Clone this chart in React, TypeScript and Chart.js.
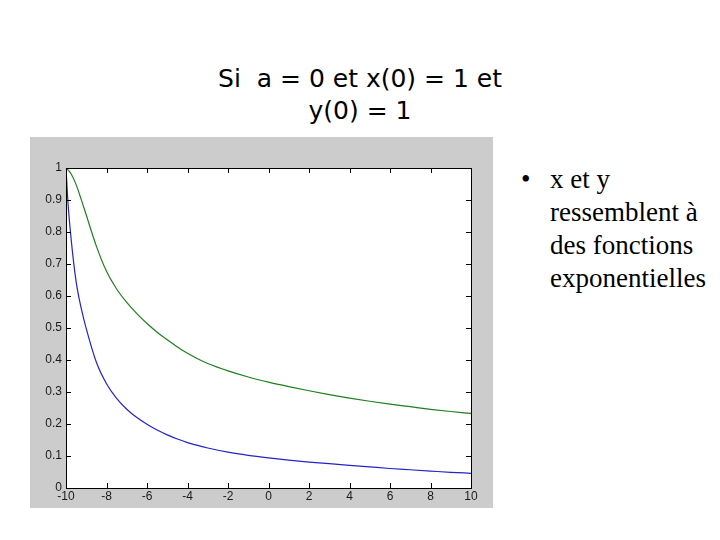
import React, { useEffect, useRef } from "react";
import { Chart, registerables } from "chart.js";

Chart.register(...registerables);

const xValues = [-10, -9.9, -9.75, -9.5, -9.25, -9, -8.5, -8, -7.5, -7, -6.5, -6, -5.5, -5, -4.5, -4, -3.5, -3, -2, -1, 0, 1, 2, 3, 4, 5, 6, 7, 8, 9, 10];
const blueValues = [1.0, 0.89, 0.78, 0.645, 0.562, 0.498, 0.393, 0.326, 0.28, 0.246, 0.22, 0.199, 0.181, 0.166, 0.153, 0.142, 0.133, 0.125, 0.112, 0.102, 0.094, 0.087, 0.081, 0.076, 0.071, 0.066, 0.061, 0.057, 0.053, 0.049, 0.046];
const greenValues = [1.0, 0.994, 0.982, 0.948, 0.902, 0.853, 0.756, 0.677, 0.622, 0.58, 0.545, 0.514, 0.487, 0.463, 0.441, 0.421, 0.404, 0.389, 0.366, 0.347, 0.331, 0.317, 0.304, 0.292, 0.281, 0.271, 0.262, 0.254, 0.246, 0.239, 0.233];

const titleLines = ["Si  a = 0 et x(0) = 1 et", "y(0) = 1"];
const bulletLines = ["x et y", "ressemblent à", "des fonctions", "exponentielles"];

const frameBoxPlugin = {
  id: "frameBox",
  beforeDraw(chart: any) {
    const { ctx, chartArea } = chart;
    ctx.save();
    ctx.fillStyle = "#ffffff";
    ctx.fillRect(chartArea.left, chartArea.top, chartArea.right - chartArea.left, chartArea.bottom - chartArea.top);
    ctx.restore();
  },
  afterDraw(chart: any) {
    const { ctx, chartArea } = chart;
    const { left, right, top, bottom } = chartArea;
    const xs = chart.scales.x;
    const ys = chart.scales.y;
    const len = 5;
    ctx.save();
    ctx.strokeStyle = "#000000";
    ctx.lineWidth = 1;
    ctx.beginPath();
    xs.ticks.forEach((t: any) => {
      const px = Math.round(xs.getPixelForValue(t.value)) + 0.5;
      if (px <= left + 1 || px >= right - 1) return;
      ctx.moveTo(px, bottom);
      ctx.lineTo(px, bottom - len);
      ctx.moveTo(px, top);
      ctx.lineTo(px, top + len);
    });
    ys.ticks.forEach((t: any) => {
      const py = Math.round(ys.getPixelForValue(t.value)) + 0.5;
      if (py <= top + 1 || py >= bottom - 1) return;
      ctx.moveTo(left, py);
      ctx.lineTo(left + len, py);
      ctx.moveTo(right, py);
      ctx.lineTo(right - len, py);
    });
    ctx.stroke();
    ctx.strokeRect(Math.round(left) + 0.5, Math.round(top) + 0.5, Math.round(right - left), Math.round(bottom - top));
    ctx.restore();
  },
};

function PlotCanvas() {
  const ref = useRef<HTMLCanvasElement | null>(null);
  useEffect(() => {
    if (!ref.current) return;
    const blueData = xValues.map((x, i) => ({ x, y: blueValues[i] }));
    const greenData = xValues.map((x, i) => ({ x, y: greenValues[i] }));
    const tickFont = { family: "'Liberation Sans', Arial, sans-serif", size: 12 };
    const chart = new Chart(ref.current, {
      type: "line",
      data: {
        datasets: [
          {
            label: "x",
            data: blueData,
            borderColor: "#2424c8",
            borderWidth: 1.2,
            pointRadius: 0,
            cubicInterpolationMode: "monotone",
            fill: false,
          },
          {
            label: "y",
            data: greenData,
            borderColor: "#1f7f1f",
            borderWidth: 1.2,
            pointRadius: 0,
            cubicInterpolationMode: "monotone",
            fill: false,
          },
        ],
      },
      options: {
        animation: false,
        responsive: false,
        devicePixelRatio: 1,
        layout: { padding: { top: 31, right: 22, left: 0, bottom: 0 } },
        plugins: { legend: { display: false }, tooltip: { enabled: false } },
        scales: {
          x: {
            type: "linear",
            min: -10,
            max: 10,
            grid: { display: false, drawTicks: false },
            border: { display: false },
            ticks: {
              stepSize: 2,
              font: tickFont,
              color: "#1a1a1a",
              padding: 1,
              maxRotation: 0,
              callback: (v: any) => String(Math.round(Number(v))),
            },
            afterFit(scale: any) {
              scale.height = 20;
            },
          },
          y: {
            type: "linear",
            min: 0,
            max: 1,
            grid: { display: false, drawTicks: false },
            border: { display: false },
            ticks: {
              stepSize: 0.1,
              font: tickFont,
              color: "#1a1a1a",
              padding: 4,
              callback: (v: any) => String(Math.round(Number(v) * 10) / 10),
            },
            afterFit(scale: any) {
              scale.width = 36;
            },
          },
        },
      },
      plugins: [frameBoxPlugin],
    } as any);
    return () => chart.destroy();
  }, []);
  return (
    <canvas
      ref={ref}
      width={463}
      height={371}
      style={{ position: "absolute", left: 30, top: 137, width: 463, height: 371, background: "#cccccc" }}
    />
  );
}

export default function App() {
  return (
    <div style={{ position: "fixed", left: 0, top: 0, width: 720, height: 540, background: "#ffffff", overflow: "hidden" }}>
      <div
        style={{
          position: "absolute",
          left: 160,
          top: 63,
          width: 400,
          textAlign: "center",
          fontFamily: "'DejaVu Sans', Verdana, sans-serif",
          fontSize: 25,
          lineHeight: "32px",
          color: "#000",
          whiteSpace: "pre",
        }}
      >
        {titleLines.map((l, i) => (
          <div key={i}>{l}</div>
        ))}
      </div>
      <PlotCanvas />
      <div
        style={{
          position: "absolute",
          left: 521,
          top: 163,
          fontFamily: "'Liberation Serif', 'Times New Roman', serif",
          fontSize: 27,
          lineHeight: "33px",
          color: "#000",
        }}
      >
        {bulletLines.map((l, i) => (
          <div key={i} style={{ position: "relative", paddingLeft: 29, whiteSpace: "nowrap" }}>
            {i === 0 ? <span style={{ position: "absolute", left: 0, top: 0 }}>•</span> : null}
            {l}
          </div>
        ))}
      </div>
    </div>
  );
}
